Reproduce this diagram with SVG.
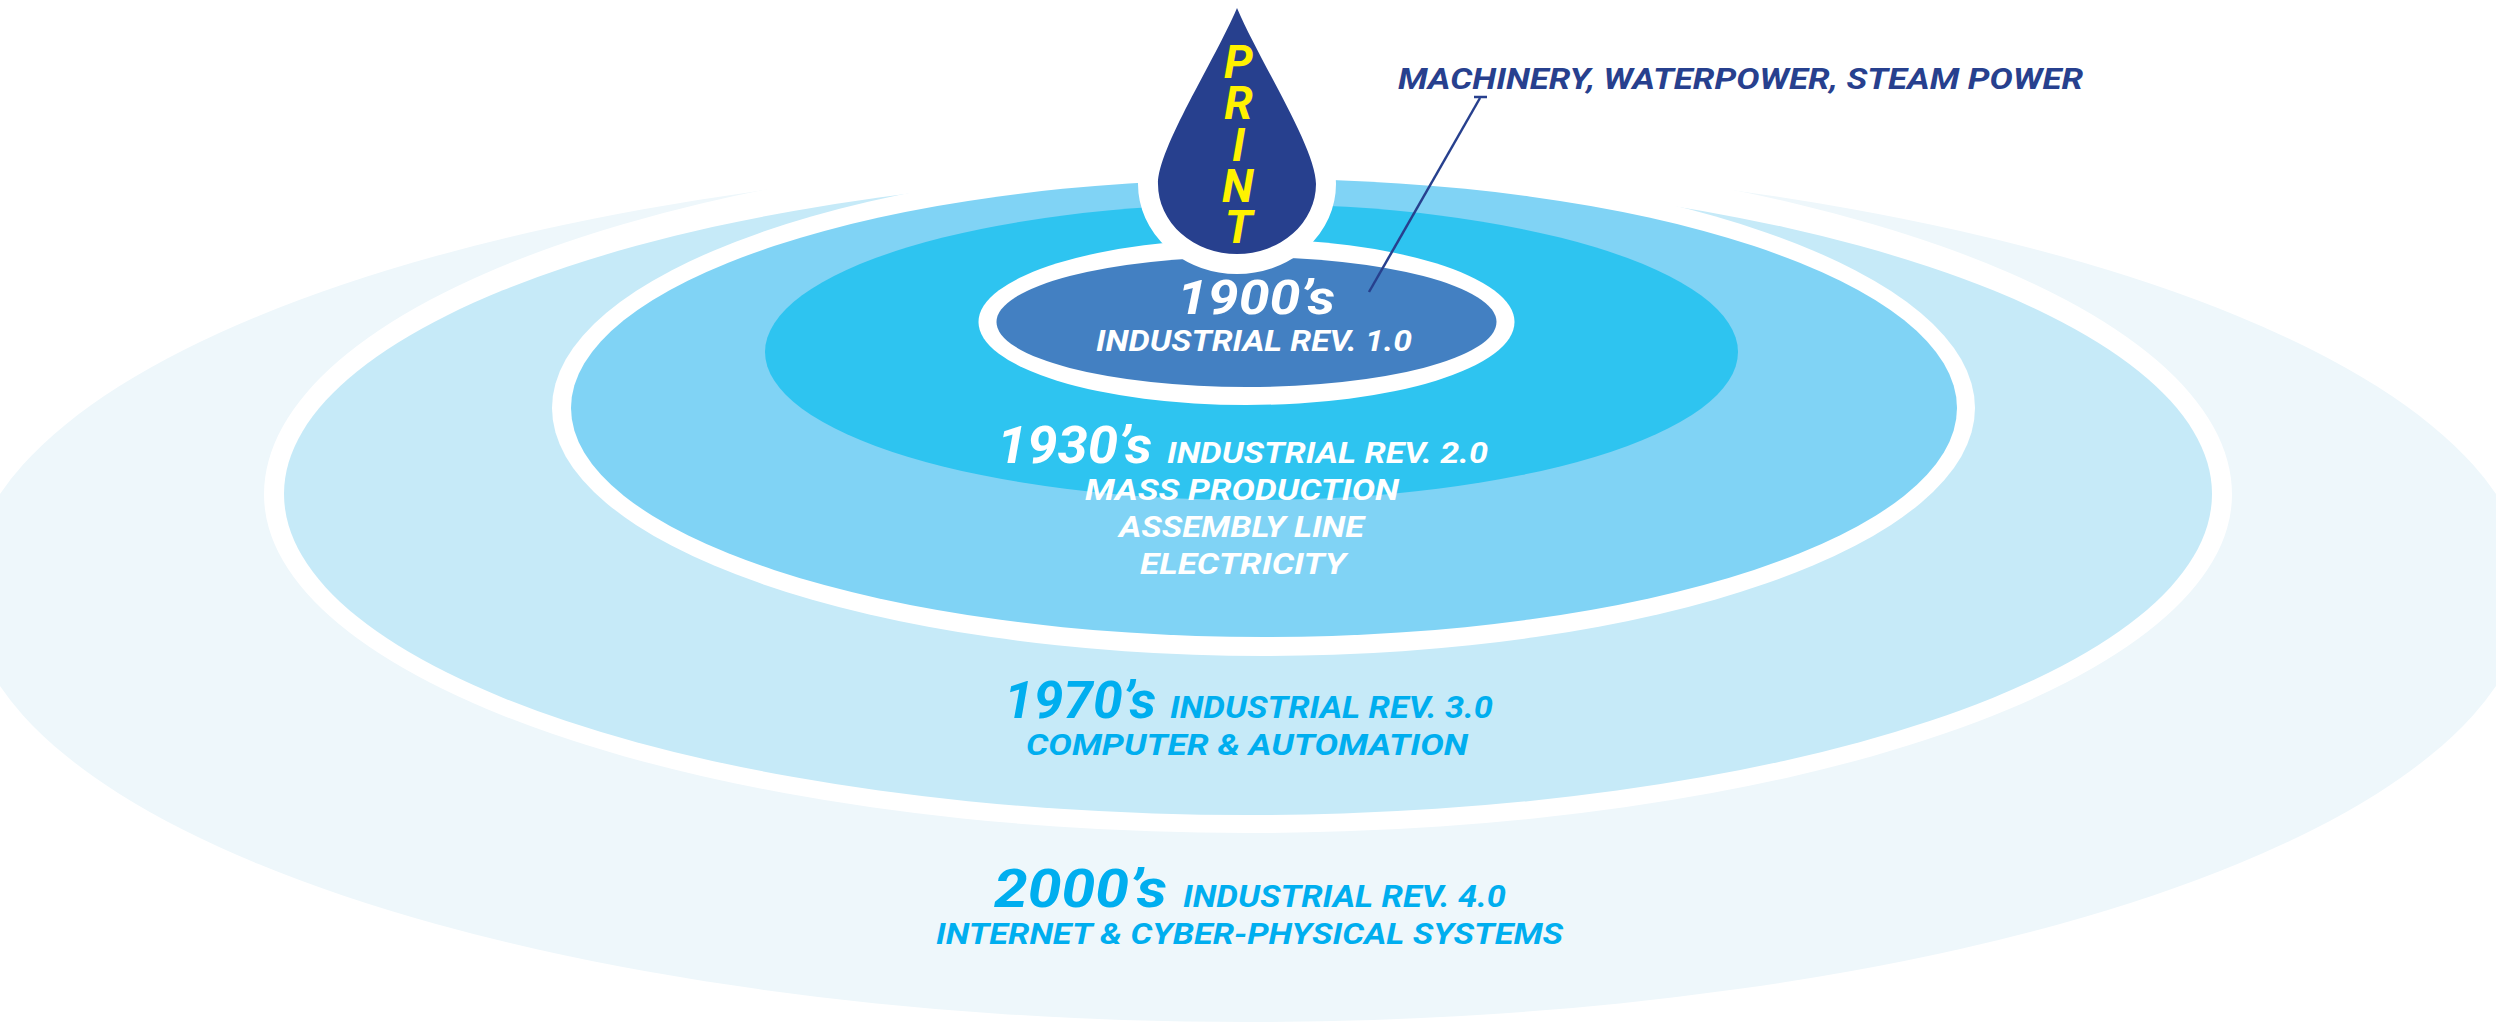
<svg xmlns="http://www.w3.org/2000/svg" width="2496" height="1023" viewBox="0 0 2496 1023">
<style>
.t{font-family:Roboto,"Open Sans","Liberation Sans",sans-serif;font-weight:700;font-style:italic}
.w{fill:#ffffff}
.c{fill:#00AEEF}
.d{fill:#27408E}
.y{fill:#FFF200;font-size:46px;writing-mode:vertical-rl;text-orientation:upright}
.gap{fill:#ffffff}
</style>
<rect width="2496" height="1023" fill="#ffffff"/>
<g id="ring-2000s">
  <ellipse cx="1248" cy="590" rx="1280" ry="432" fill="#EEF7FB"/>
  <text class="t c" x="994" y="907" font-size="53" textLength="173" lengthAdjust="spacingAndGlyphs">2000’s</text>
  <text class="t c" x="1183" y="907" font-size="31" textLength="323" lengthAdjust="spacingAndGlyphs">INDUSTRIAL REV. 4.0</text>
  <text class="t c" x="936" y="944" font-size="30" textLength="627" lengthAdjust="spacingAndGlyphs">INTERNET &amp; CYBER-PHYSICAL SYSTEMS</text>
</g>
<g id="ring-1970s">
  <path class="gap" d="M264 494.5 A984 338.5 0 0 0 2232 494.5 A984 350 0 0 0 264 494.5 Z"/>
  <ellipse cx="1248" cy="494" rx="964" ry="321" fill="#C6EAF8"/>
  <text class="t c" x="1004" y="718" font-size="52" textLength="152" lengthAdjust="spacingAndGlyphs">1970’s</text>
  <text class="t c" x="1170" y="718" font-size="31" textLength="323" lengthAdjust="spacingAndGlyphs">INDUSTRIAL REV. 3.0</text>
  <text class="t c" x="1026" y="755" font-size="30" textLength="442" lengthAdjust="spacingAndGlyphs">COMPUTER &amp; AUTOMATION</text>
</g>
<g id="ring-1930s">
  <ellipse class="gap" cx="1263.5" cy="408" rx="711.5" ry="248"/>
  <ellipse cx="1264" cy="408" rx="693" ry="229" fill="#80D3F5"/>
  <ellipse cx="1251.5" cy="352" rx="486.5" ry="148" fill="#2EC4F0"/>
  <text class="t w" x="997" y="463" font-size="51" textLength="155" lengthAdjust="spacingAndGlyphs">1930’s</text>
  <text class="t w" x="1167" y="463" font-size="30" textLength="321" lengthAdjust="spacingAndGlyphs">INDUSTRIAL REV. 2.0</text>
  <text class="t w" x="1085" y="500" font-size="30" textLength="314" lengthAdjust="spacingAndGlyphs">MASS PRODUCTION</text>
  <text class="t w" x="1119" y="537" font-size="30" textLength="245" lengthAdjust="spacingAndGlyphs">ASSEMBLY LINE</text>
  <text class="t w" x="1140" y="574" font-size="30" textLength="206" lengthAdjust="spacingAndGlyphs">ELECTRICITY</text>
</g>
<g id="ring-1900s">
  <ellipse class="gap" cx="1246.5" cy="322" rx="268" ry="83"/>
  <ellipse cx="1246.5" cy="322" rx="250" ry="65" fill="#4380C2"/>
</g>
<g id="drop">
  <path d="M1237 8 C1214 62 1158 148 1158 184 A79 70 0 0 0 1316 184 C1316 148 1260 62 1237 8 Z" fill="#27408E" stroke="#ffffff" stroke-width="40" stroke-linejoin="round" paint-order="stroke"/>
  <text class="t y" x="1238" y="35" textLength="219" lengthAdjust="spacing">PRINT</text>
</g>
<g id="ring-1900s-label">
  <text class="t w" x="1177" y="314" font-size="48" textLength="158" lengthAdjust="spacingAndGlyphs">1900’s</text>
  <text class="t w" x="1096" y="351" font-size="29" textLength="316" lengthAdjust="spacingAndGlyphs">INDUSTRIAL REV. 1.0</text>
</g>
<g id="connectors" stroke="#27408E" stroke-width="2.5" fill="none">
  <line x1="1480" y1="98" x2="1369" y2="292"/>
  <line x1="1474" y1="97" x2="1487" y2="97"/>
</g>
<g id="label-machinery">
  <text class="t d" x="1398" y="89" font-size="29" textLength="685" lengthAdjust="spacingAndGlyphs">MACHINERY, WATERPOWER, STEAM POWER</text>
</g>
</svg>
